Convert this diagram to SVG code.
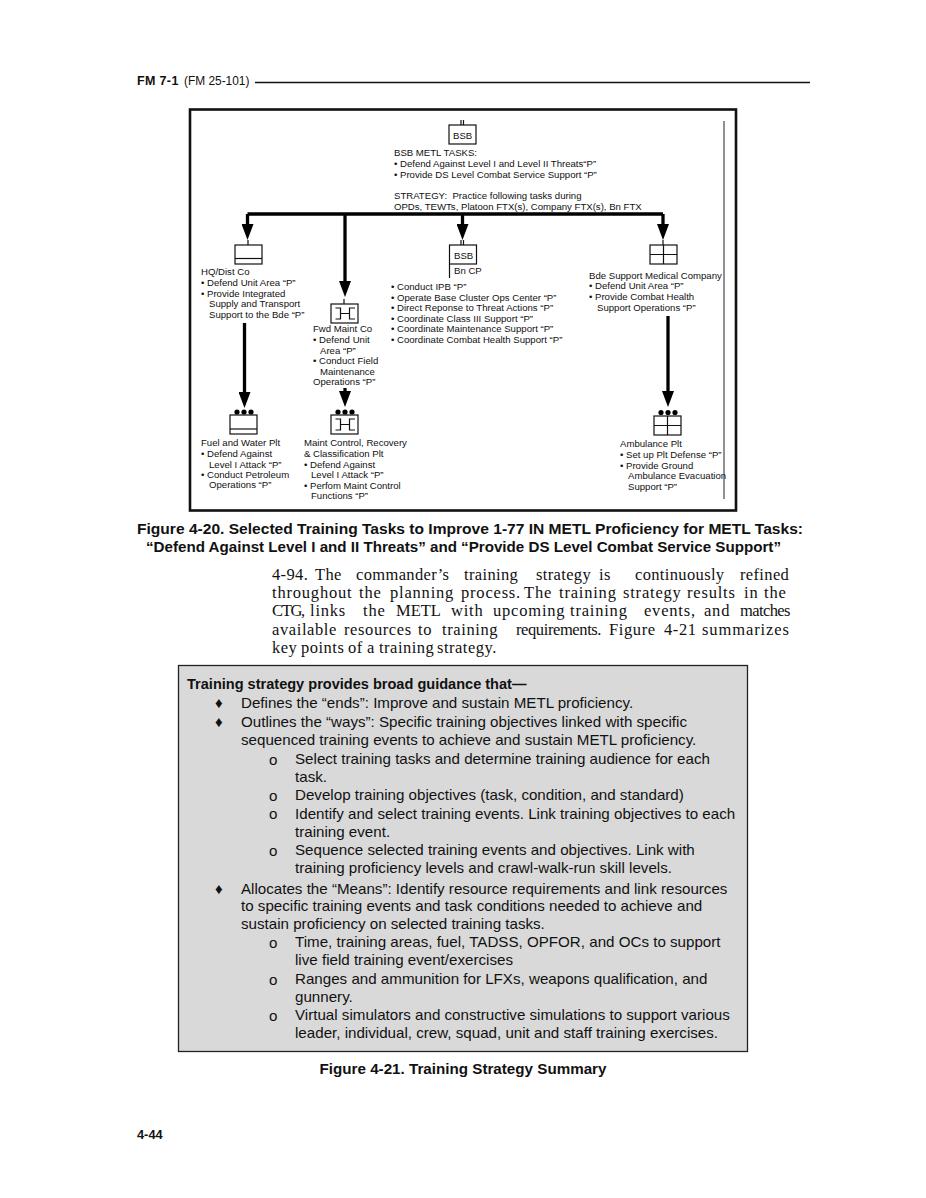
<svg xmlns="http://www.w3.org/2000/svg" width="926" height="1198" viewBox="0 0 926 1198">
<style>
text{font-family:"Liberation Sans",Arial,sans-serif;fill:#111}
.d{font-size:9.6px}
.n{font-size:15.15px}
.b{font-weight:bold}
.s{font-family:"Liberation Serif","Times New Roman",serif;font-size:16.5px;letter-spacing:.35px}
.sym{fill:#fff;stroke:#111;stroke-width:1.2}
.c{fill:none;stroke:#000;stroke-width:3.3}
.ln{fill:none;stroke:#111;stroke-width:1.2}
</style>
<defs>
<marker id="ah" markerUnits="userSpaceOnUse" markerWidth="16" markerHeight="12" refX="8" refY="6" orient="auto" viewBox="0 0 16 12"><path d="M0 0 L16 6 L0 12 Z" fill="#000"/></marker>
<g id="maint"><rect class="sym" x="0" y="0" width="27" height="19"/><path class="ln" d="M4.500 4h5v11h-5M9.500 9.500h9M24 4h-5.500v11h5.500"/></g>
</defs>
<rect width="926" height="1198" fill="#fff"/>
<g id="header"><text x="137" y="85" font-size="12.500" class="b" letter-spacing=".35">FM 7-1</text><text x="184" y="85" font-size="11.900">(FM 25-101)</text><path d="M255 82.500H810" stroke="#111" stroke-width="1.300"/></g>
<rect id="frame" x="190" y="109.500" width="546" height="401" fill="#fff" stroke="#111" stroke-width="2.600"/>
<path d="M724 121V499" stroke="#222" stroke-width="1"/>
<g id="connectors">
<path class="c" d="M247.500 214H663"/>
<path class="c" d="M247.500 214V232" marker-end="url(#ah)"/>
<path class="c" d="M345 214V289" marker-end="url(#ah)"/>
<path class="c" d="M462.500 214V232" marker-end="url(#ah)"/>
<path class="c" d="M663 214V232" marker-end="url(#ah)"/>
<path class="c" d="M244.500 323V400" marker-end="url(#ah)"/>
<path class="c" d="M345 388V399" marker-end="url(#ah)"/>
<path class="c" d="M668 316V399" marker-end="url(#ah)"/>
</g>
<g id="node-bsb-top"><path class="ln" d="M461 120v5M463.500 120v5"/><rect class="sym" x="449" y="125" width="27" height="19"/><text class="d" x="453" y="138.500">BSB</text>
<text class="d" x="394" y="156">BSB METL TASKS:</text><text class="d" x="394" y="167">• Defend Against Level I and Level II Threats“P”</text><text class="d" x="394" y="178">• Provide DS Level Combat Service Support “P”</text><text class="d" x="394" y="199">STRATEGY:&#160; Practice following tasks during</text><text class="d" x="394" y="210">OPDs, TEWTs, Platoon FTX(s), Company FTX(s), Bn FTX</text></g>
<g id="node-hq"><path class="ln" d="M248 240v5"/><rect class="sym" x="235" y="245" width="27" height="19"/><path class="ln" d="M235 258.500h27"/>
<text class="d" x="201" y="275">HQ/Dist Co</text><text class="d" x="201" y="286">• Defend Unit Area “P”</text><text class="d" x="201" y="297">• Provide Integrated</text><text class="d" x="209" y="307">Supply and Transport</text><text class="d" x="209" y="318">Support to the Bde “P”</text></g>
<g id="node-fwd"><path class="ln" d="M344 299v5"/><use href="#maint" x="331" y="304"/>
<text class="d" x="313" y="332">Fwd Maint Co</text><text class="d" x="313" y="343">• Defend Unit</text><text class="d" x="320" y="354">Area “P”</text><text class="d" x="313" y="364">• Conduct Field</text><text class="d" x="320" y="375">Maintenance</text><text class="d" x="313" y="385">Operations “P”</text></g>
<g id="node-bsb-cp"><path class="ln" d="M461 240v5M463.500 240v5"/><rect class="sym" x="449.500" y="245" width="27" height="19"/><text class="d" x="454" y="258.500">BSB</text><path class="ln" d="M449.500 264v14"/><text class="d" x="454" y="274">Bn CP</text>
<text class="d" x="391" y="290">• Conduct IPB “P”</text><text class="d" x="391" y="301">• Operate Base Cluster Ops Center “P”</text><text class="d" x="391" y="311">• Direct Reponse to Threat Actions “P”</text><text class="d" x="391" y="322">• Coordinate Class III Support “P”</text><text class="d" x="391" y="332">• Coordinate Maintenance Support “P”</text><text class="d" x="391" y="343">• Coordinate Combat Health Support “P”</text></g>
<g id="node-med"><path class="ln" d="M663 240v5"/><rect class="sym" x="650" y="245" width="27" height="19"/><path class="ln" d="M650 254.500h27M663.500 245v19"/>
<text class="d" x="589" y="279">Bde Support Medical Company</text><text class="d" x="589" y="289">• Defend Unit Area “P”</text><text class="d" x="589" y="300">• Provide Combat Health</text><text class="d" x="597" y="311">Support Operations “P”</text></g>
<g id="node-fuel"><circle cx="237" cy="412" r="2.600"/><circle cx="244" cy="412" r="2.600"/><circle cx="251" cy="412" r="2.600"/><rect class="sym" x="230" y="415" width="27" height="19"/><path class="ln" d="M230 429h27"/>
<text class="d" x="201" y="446">Fuel and Water Plt</text><text class="d" x="201" y="457">• Defend Against</text><text class="d" x="209" y="468">Level I Attack “P”</text><text class="d" x="201" y="478">• Conduct Petroleum</text><text class="d" x="209" y="488">Operations “P”</text></g>
<g id="node-mcr"><circle cx="338" cy="412" r="2.600"/><circle cx="345" cy="412" r="2.600"/><circle cx="352" cy="412" r="2.600"/><use href="#maint" x="331" y="415"/>
<text class="d" x="304" y="446">Maint Control, Recovery</text><text class="d" x="304" y="457">&amp; Classification Plt</text><text class="d" x="304" y="468">• Defend Against</text><text class="d" x="311" y="478">Level I Attack “P”</text><text class="d" x="304" y="489">• Perfom Maint Control</text><text class="d" x="311" y="499">Functions “P”</text></g>
<g id="node-amb"><circle cx="661" cy="412.500" r="2.600"/><circle cx="668" cy="412.500" r="2.600"/><circle cx="675" cy="412.500" r="2.600"/><rect class="sym" x="654" y="416" width="27" height="19"/><path class="ln" d="M654 425.500h27M667.500 416v19"/>
<text class="d" x="620" y="447">Ambulance Plt</text><text class="d" x="620" y="458">• Set up Plt Defense “P”</text><text class="d" x="620" y="469">• Provide Ground</text><text class="d" x="628" y="479">Ambulance Evacuation</text><text class="d" x="628" y="490">Support “P”</text></g>
<g id="caption-20"><text class="b" x="137" y="534" font-size="15.200" textLength="666" lengthAdjust="spacingAndGlyphs">Figure 4-20. Selected Training Tasks to Improve 1-77 IN METL Proficiency for METL Tasks:</text><text class="b" x="146" y="552" font-size="15.200" textLength="635" lengthAdjust="spacingAndGlyphs">“Defend Against Level I and II Threats” and “Provide DS Level Combat Service Support”</text></g>
<g id="para">
<text class="s" y="580"><tspan x="272">4-94.</tspan> <tspan x="315">The</tspan> <tspan x="356">commander’s</tspan> <tspan x="464">training</tspan> <tspan x="536">strategy</tspan> <tspan x="599">is</tspan> <tspan x="635">continuously</tspan> <tspan x="740">refined</tspan></text>
<text class="s" y="598" style="letter-spacing:.8px"><tspan x="272">throughout</tspan> <tspan x="359">the</tspan> <tspan x="390">planning</tspan> <tspan x="461">process.</tspan> <tspan x="524">The</tspan> <tspan x="559">training</tspan> <tspan x="623">strategy</tspan> <tspan x="687">results</tspan> <tspan x="744">in</tspan> <tspan x="764">the</tspan></text>
<text class="s" y="616" style="letter-spacing:.8px"><tspan x="272" style="letter-spacing:-1.300px">CTG,</tspan> <tspan x="310">links</tspan> <tspan x="363">the</tspan> <tspan x="396" style="letter-spacing:0">METL</tspan> <tspan x="451">with</tspan> <tspan x="493">upcoming</tspan> <tspan x="570">training</tspan> <tspan x="644">events,</tspan> <tspan x="704">and</tspan> <tspan x="740" style="letter-spacing:-.6px">matches</tspan></text>
<text class="s" y="635" style="letter-spacing:.6px"><tspan x="272">available</tspan> <tspan x="344">resources</tspan> <tspan x="418">to</tspan> <tspan x="442">training</tspan> <tspan x="516" style="letter-spacing:-.4px">requirements.</tspan> <tspan x="609">Figure</tspan> <tspan x="664">4-21</tspan> <tspan x="702" style="letter-spacing:.9px">summarizes</tspan></text>
<text class="s" y="653" style="letter-spacing:.5px"><tspan x="272">key</tspan> <tspan x="301">points</tspan> <tspan x="348">of</tspan> <tspan x="367">a</tspan> <tspan x="379">training</tspan> <tspan x="437">strategy.</tspan></text></g>
<g id="summary-box"><rect x="178.500" y="665.500" width="569" height="386" fill="#d9d9d9" stroke="#222" stroke-width="1.300"/>
<text class="b" font-size="14.550" x="187" y="689">Training strategy provides broad guidance that—</text>
<text class="n" x="215" y="708">♦</text><text class="n" x="241" y="708">Defines the “ends”: Improve and sustain METL proficiency.</text>
<text class="n" x="215" y="727">♦</text><text class="n" x="241" y="727">Outlines the “ways”: Specific training objectives linked with specific</text>
<text class="n" x="241" y="745">sequenced training events to achieve and sustain METL proficiency.</text>
<text class="n" x="269" y="765">o</text><text class="n" x="295" y="764">Select training tasks and determine training audience for each</text>
<text class="n" x="295" y="782">task.</text>
<text class="n" x="269" y="801">o</text><text class="n" x="295" y="800">Develop training objectives (task, condition, and standard)</text>
<text class="n" x="269" y="819">o</text><text class="n" x="295" y="819">Identify and select training events. Link training objectives to each</text>
<text class="n" x="295" y="837">training event.</text>
<text class="n" x="269" y="856">o</text><text class="n" x="295" y="855">Sequence selected training events and objectives. Link with</text>
<text class="n" x="295" y="873">training proficiency levels and crawl-walk-run skill levels.</text>
<text class="n" x="215" y="894">♦</text><text class="n" x="241" y="894">Allocates the “Means”: Identify resource requirements and link resources</text>
<text class="n" x="241" y="911">to specific training events and task conditions needed to achieve and</text>
<text class="n" x="241" y="929">sustain proficiency on selected training tasks.</text>
<text class="n" x="269" y="948">o</text><text class="n" x="295" y="947">Time, training areas, fuel, TADSS, OPFOR, and OCs to support</text>
<text class="n" x="295" y="965">live field training event/exercises</text>
<text class="n" x="269" y="985">o</text><text class="n" x="295" y="984">Ranges and ammunition for LFXs, weapons qualification, and</text>
<text class="n" x="295" y="1002">gunnery.</text>
<text class="n" x="269" y="1021">o</text><text class="n" x="295" y="1020">Virtual simulators and constructive simulations to support various</text>
<text class="n" x="295" y="1038">leader, individual, crew, squad, unit and staff training exercises.</text></g>
<text class="b" x="463" y="1074" text-anchor="middle" font-size="15.200" id="caption-21">Figure 4-21. Training Strategy Summary</text>
<text class="b" x="137" y="1139" font-size="12.800" id="page">4-44</text>
</svg>
